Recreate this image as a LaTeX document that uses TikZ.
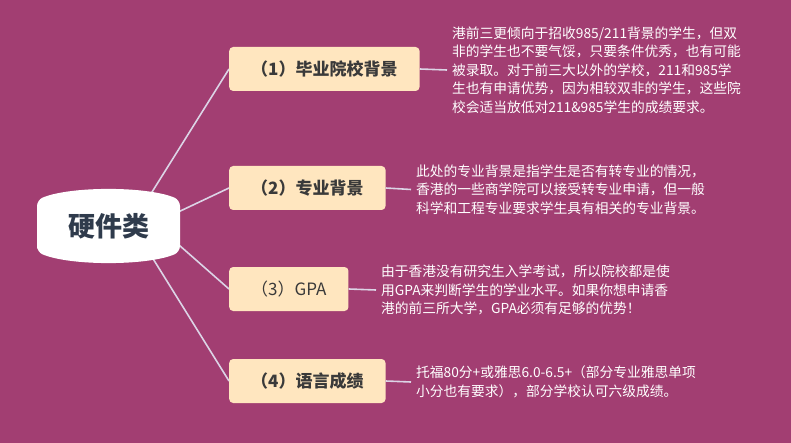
\documentclass[tikz,border=0pt]{standalone}
\usepackage{fontspec}
\setmainfont{Noto Sans CJK SC}
\definecolor{bgpurple}{RGB}{162,62,114}
\definecolor{boxfill}{HTML}{FFE6BF}
\definecolor{linkline}{HTML}{DCD4E6}
\definecolor{hubtext}{HTML}{2F3B4C}
\definecolor{boxtext}{HTML}{3A3A3A}

\begin{document}
\begin{tikzpicture}[x=1pt, y=-1pt,
    every node/.style={inner sep=0pt},
    topic/.style={fill=boxfill, text=boxtext, rounded corners=4pt, anchor=west,
        minimum height=44pt, inner xsep=22pt, font=\fontsize{17}{20}\selectfont\bfseries},
    note/.style={text=white, anchor=west, align=left, inner xsep=5pt,
        font=\fontsize{13.75}{18.5}\selectfont},
    link/.style={draw=linkline, line width=1.6pt}]

    % background
    \fill[bgpurple] (0,0) rectangle (791,443);

    % (1) school
    \node[topic] (b1) at (229,69) {（1）毕业院校背景};
    \node[note] (t1) at (447,70) {港前三更倾向于招收985/211背景的学生，但双\\非的学生也不要气馁，只要条件优秀，也有可能\\被录取。对于前三大以外的学校，211和985学\\生也有申请优势，因为相较双非的学生，这些院\\校会适当放低对211\&985学生的成绩要求。};
    \draw[link] (b1.east) -- (t1.west);

    % (2) major
    \node[topic] (b2) at (229,188) {（2）专业背景};
    \node[note] (t2) at (411,189.5) {此处的专业背景是指学生是否有转专业的情况，\\香港的一些商学院可以接受转专业申请，但一般\\科学和工程专业要求学生具有相关的专业背景。};
    \draw[link] (b2.east) -- (t2.west);

    % (3) GPA
    \node[topic, font=\fontsize{17}{20}\selectfont] (b3) at (229,289) {（3）GPA};
    \node[note] (t3) at (376,290) {由于香港没有研究生入学考试，所以院校都是使\\用GPA来判断学生的学业水平。如果你想申请香\\港的前三所大学，GPA必须有足够的优势！};
    \draw[link] (b3.east) -- (t3.west);

    % (4) language
    \node[topic] (b4) at (229,381) {（4）语言成绩};
    \node[note] (t4) at (411,382) {托福80分+或雅思6.0-6.5+（部分专业雅思单项\\小分也有要求），部分学校认可六级成绩。};
    \draw[link] (b4.east) -- (t4.west);

    % hub links
    \coordinate (hub1) at (147,200);
    \coordinate (hub2) at (174,214);
    \coordinate (hub3) at (171,238);
    \coordinate (hub4) at (147,249);
    \draw[link] (hub1) -- (b1.west);
    \draw[link] (hub2) -- (b2.west);
    \draw[link] (hub3) -- (b3.west);
    \draw[link] (hub4) -- (b4.west);

    % hub shape
    \fill[white, rounded corners=6pt] (37,252) -- (37,200)
        .. controls (70,186) and (147,186) .. (180,200) -- (180,252)
        .. controls (147,266) and (70,266) .. (37,252) -- cycle;
    \node[text=hubtext, font=\fontsize{27}{30}\selectfont\bfseries] (hub) at (108.5,226) {硬件类};

\end{tikzpicture}
\end{document}
